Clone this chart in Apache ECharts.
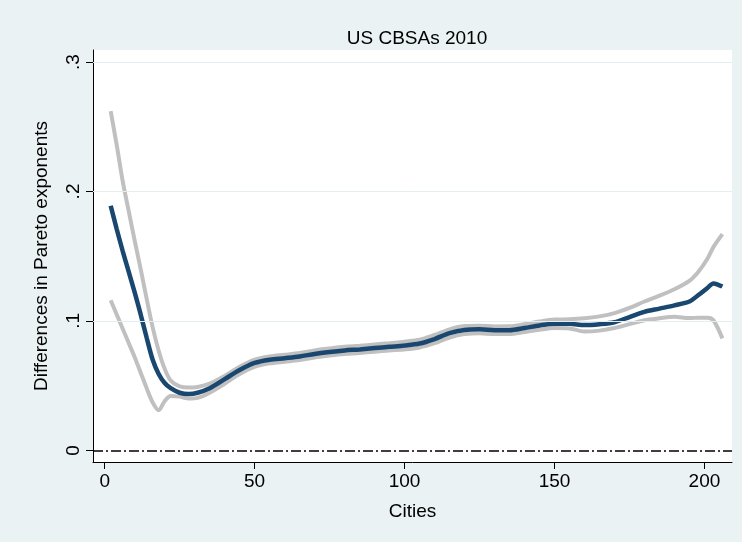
<!DOCTYPE html>
<html>
<head>
<meta charset="utf-8">
<script src="https://cdn.jsdelivr.net/npm/echarts@6/dist/echarts.min.js"></script>
<style>
  html, body { margin: 0; padding: 0; background: #eaf2f3; }
  #chart { width: 742px; height: 542px; }
</style>
</head>
<body>
<div id="chart"></div>
<script>
// Number of cities (x positions of the estimates)
const cities = [2, 4, 6, 8, 10, 12, 14, 16, 18, 20, 22, 25, 28, 31, 35, 40, 45, 50, 55, 60,
  65, 70, 75, 80, 85, 90, 95, 100, 105, 110, 115, 120, 125, 130, 135, 140, 145, 150, 155, 160,
  165, 170, 175, 180, 185, 190, 195, 198, 201, 203, 206];

// Estimated difference in Pareto exponents
const estimate = [0.189, 0.171, 0.154, 0.138, 0.122, 0.105, 0.087, 0.070, 0.059, 0.052,
  0.048, 0.0445, 0.0435, 0.0445, 0.048, 0.055, 0.062, 0.0675, 0.0700, 0.0712,
  0.0725, 0.0745, 0.0760, 0.0772, 0.0780, 0.0790, 0.0800, 0.0810, 0.0825, 0.0860,
  0.0905, 0.0930, 0.0935, 0.0928, 0.0928, 0.0945, 0.0965, 0.0978, 0.0978, 0.0968,
  0.0975, 0.0990, 0.1030, 0.1070, 0.1095, 0.1120, 0.1150, 0.1200, 0.1255, 0.1290, 0.1265];

// Upper confidence bound
const upper = [0.262, 0.236, 0.208, 0.185, 0.162, 0.140, 0.117, 0.095, 0.077, 0.063,
  0.054, 0.0495, 0.0485, 0.049, 0.0515, 0.0575, 0.0645, 0.0700, 0.0725, 0.0738,
  0.0752, 0.0772, 0.0787, 0.0800, 0.0808, 0.0818, 0.0828, 0.0840, 0.0855, 0.0892,
  0.0935, 0.0960, 0.0963, 0.0957, 0.0958, 0.0975, 0.0995, 0.1010, 0.1012, 0.1020,
  0.1035, 0.1060, 0.1100, 0.1150, 0.1195, 0.1245, 0.1310, 0.1380, 0.1480, 0.1570, 0.1670];

// Lower confidence bound
const lower = [0.116, 0.105, 0.094, 0.083, 0.072, 0.060, 0.048, 0.037, 0.031, 0.038,
  0.042, 0.0415, 0.040, 0.0405, 0.0445, 0.0515, 0.0590, 0.0645, 0.0672, 0.0685,
  0.0698, 0.0718, 0.0732, 0.0744, 0.0752, 0.0762, 0.0772, 0.0780, 0.0795, 0.0828,
  0.0872, 0.0898, 0.0905, 0.0898, 0.0898, 0.0915, 0.0932, 0.0945, 0.0942, 0.0918,
  0.0925, 0.0945, 0.0975, 0.1005, 0.1020, 0.1032, 0.1022, 0.1025, 0.1025, 0.1005, 0.0865];

// Axis ticks and their labels
const xTicks = [0, 50, 100, 150, 200];
const yTicks = [0, 0.1, 0.2, 0.3];
const yTickLabels = ['0', '.1', '.2', '.3'];

const FONT = 'Liberation Sans, Arial, Helvetica, sans-serif';
const pairs = ys => cities.map((c, i) => [c, ys[i]]);

const chart = echarts.init(document.getElementById('chart'), null, { renderer: 'canvas' });

chart.setOption({
  backgroundColor: '#eaf2f3',
  animation: false,
  title: {
    text: 'US CBSAs 2010',
    left: 412, top: 24, textAlign: 'center',
    textStyle: { fontFamily: FONT, fontSize: 19, fontWeight: 'normal', color: '#000' }
  },
  grid: {
    left: 93, right: 10, top: 50, bottom: 80,
    show: true, backgroundColor: '#ffffff', borderWidth: 0
  },
  xAxis: {
    type: 'value', min: -3.9, max: 209.2,
    name: 'Cities', nameLocation: 'middle', nameGap: 40,
    nameTextStyle: { fontFamily: FONT, fontSize: 19, color: '#000' },
    axisLine: { show: true, onZero: false, lineStyle: { color: '#000', width: 1 } },
    axisTick: { show: true, length: 7, customValues: xTicks, lineStyle: { color: '#000' } },
    axisLabel: { customValues: xTicks, margin: 10, fontFamily: FONT, fontSize: 19, color: '#000' },
    splitLine: { show: false }
  },
  yAxis: {
    type: 'value', min: -0.009, max: 0.3093,
    name: 'Differences in Pareto exponents', nameLocation: 'middle', nameGap: 42, nameRotate: 90,
    nameTextStyle: { fontFamily: FONT, fontSize: 19, color: '#000' },
    axisLine: { show: true, onZero: false, lineStyle: { color: '#000', width: 1 } },
    axisTick: { show: true, length: 7, customValues: yTicks, lineStyle: { color: '#000' } },
    axisLabel: {
      customValues: yTicks, rotate: 90, margin: 10,
      fontFamily: FONT, fontSize: 19, color: '#000',
      formatter: v => yTickLabels[yTicks.findIndex(t => Math.abs(t - v) < 1e-9)] ?? ''
    },
    splitLine: { show: false }
  },
  series: [
    {
      name: 'grid', type: 'line', data: [], silent: true,
      markLine: {
        silent: true, symbol: 'none', label: { show: false },
        lineStyle: { color: '#e4eef0', width: 1, type: 'solid' },
        data: yTicks.slice(1).map(v => ({ yAxis: v }))
      }
    },
    {
      name: 'upper', type: 'line', data: pairs(upper), showSymbol: false, smooth: 0.3,
      lineStyle: { color: '#c0c0c0', width: 4 }, z: 2
    },
    {
      name: 'lower', type: 'line', data: pairs(lower), showSymbol: false, smooth: 0.3,
      lineStyle: { color: '#c0c0c0', width: 4 }, z: 2
    },
    {
      name: 'estimate', type: 'line', data: pairs(estimate), showSymbol: false, smooth: 0.3,
      lineStyle: { color: '#1a476f', width: 4.5 }, z: 3,
      markLine: {
        silent: true, symbol: 'none', label: { show: false },
        lineStyle: { color: '#000', width: 1.5, type: [10, 3, 2, 3] },
        data: [{ yAxis: 0 }]
      }
    }
  ]
});
</script>
</body>
</html>
